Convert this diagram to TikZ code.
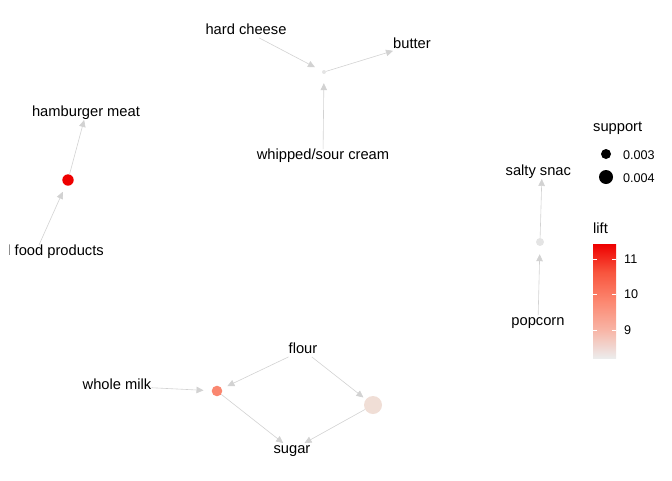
\documentclass[tikz,border=0pt]{standalone}
\usepackage{fontspec}
\setmainfont{Liberation Sans}
\usetikzlibrary{arrows.meta}
\definecolor{edgegray}{RGB}{210,210,210}
\definecolor{rulegray}{RGB}{228,228,228}
\definecolor{liftred}{RGB}{238,0,0}
\definecolor{liftsalmon}{RGB}{250,135,112}
\definecolor{liftpale}{RGB}{240,222,214}
\definecolor{liftA}{RGB}{236,236,236}
\definecolor{liftB}{RGB}{248,180,165}
\definecolor{liftC}{RGB}{252,135,112}
\definecolor{liftD}{RGB}{248,85,62}
\pgfdeclareverticalshading{liftbar}{100bp}{color(0bp)=(liftA); color(25bp)=(liftA); color(37.5bp)=(liftB); color(50bp)=(liftC); color(62.5bp)=(liftD); color(75bp)=(liftred); color(100bp)=(liftred)}
\begin{document}
\begin{tikzpicture}[x=1pt,y=-1pt,
  lbl/.style={font=\fontsize{14.7}{17}\selectfont, inner sep=0pt, text height=10.5pt, text depth=3pt},
  ticklbl/.style={font=\fontsize{12.6}{15}\selectfont, inner sep=0pt},
  rulenode/.style={circle, inner sep=0pt, minimum size=#1},
  edge/.style={draw=edgegray, line width=0.6pt, -{Triangle[length=7pt,width=6.5pt]}}]
\useasboundingbox (0,0) rectangle (672,480);
\begin{scope}
\clip (9.6,0) rectangle (570.5,480);
% top cluster
\node[lbl] (hc) at (246,31) {hard cheese};
\node[lbl] (butter) at (412,45) {butter};
\node[lbl] (wsc) at (323,156) {whipped/sour cream};
\node[rulenode=4pt, fill=rulegray] (r1) at (324,72) {};
\draw[edge, shorten >=8pt] (hc) -- (r1);
\draw[edge, shorten >=9pt] (wsc) -- (r1);
\draw[edge] (r1) -- (butter);
% hamburger cluster
\node[lbl] (ham) at (86,113) {hamburger meat};
\node[lbl, anchor=east] (food) at (104,252) {processed food products};
\coordinate (foodpt) at (39,245);
\node[rulenode=11.4pt, fill=liftred] (r2) at (68,180) {};
\draw[edge, shorten >=7pt] (foodpt) -- (r2);
\draw[edge] (r2) -- (ham);
% salty snack cluster
\node[lbl] (salty) at (542,172) {salty snack};
\node[lbl] (pop) at (538,322) {popcorn};
\node[rulenode=8pt, fill=rulegray] (r3) at (540,242) {};
\draw[edge, shorten >=8pt] (pop) -- (r3);
\draw[edge] (r3) -- (salty);
% bottom cluster
\node[lbl] (flour) at (303,350) {flour};
\node[lbl] (milk) at (117,386) {whole milk};
\node[lbl] (sugar) at (292,450) {sugar};
\node[rulenode=10.6pt, fill=liftsalmon] (r4) at (217,391) {};
\node[rulenode=18pt, fill=liftpale] (r5) at (373,405) {};
\draw[edge, shorten >=6pt] (flour) -- (r4);
\draw[edge, shorten >=3pt] (flour) -- (r5);
\draw[edge, shorten >=8pt] (milk) -- (r4);
\draw[edge] (r4) -- (sugar);
\draw[edge] (r5) -- (sugar);
\end{scope}
% legend: support
\node[lbl, anchor=west] (suptitle) at (593,128) {support};
\node[rulenode=10pt, fill=black] (s1) at (606,154) {};
\node[rulenode=14pt, fill=black] (s2) at (606,177) {};
\node[ticklbl, anchor=west] (s1l) at (623,155) {0.003};
\node[ticklbl, anchor=west] (s2l) at (623,178) {0.004};
% legend: lift
\node[lbl, anchor=west] (lifttitle) at (593,230) {lift};
\shade[shading=liftbar] (593,244) rectangle (616,358);
\foreach \yy in {259,294.5,330} {
  \draw[white, line width=0.8pt] (593,\yy) -- (597,\yy) (612,\yy) -- (616,\yy);
}
\node[ticklbl, anchor=west] (l11) at (624,259) {11};
\node[ticklbl, anchor=west] (l10) at (624,294.5) {10};
\node[ticklbl, anchor=west] (l9) at (624,330) {9};
\end{tikzpicture}
\end{document}
